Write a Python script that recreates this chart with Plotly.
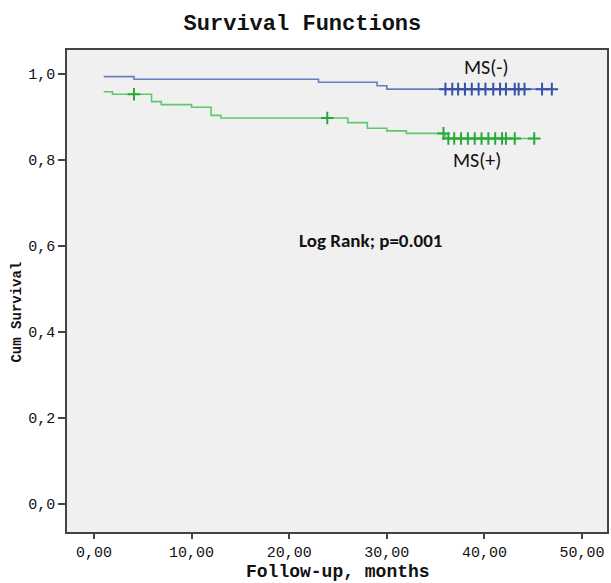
import plotly.graph_objects as go
import numpy as np

# ---- data ----
ms_neg_times = [1.0, 4.1, 23.0, 29.0, 30.0, 47.0]
ms_neg_surv = [0.994, 0.988, 0.981, 0.973, 0.965, 0.965]
ms_neg_censor = [36.0, 36.7, 37.3, 38.0, 38.7, 39.4, 40.1, 40.9, 41.6, 42.2, 43.1, 43.5, 44.1, 45.9, 46.9]

ms_pos_times = [1.0, 1.9, 5.9, 6.9, 10.0, 12.0, 13.0, 26.0, 28.0, 30.0, 32.0, 36.0, 45.2]
ms_pos_surv = [0.959, 0.953, 0.936, 0.929, 0.923, 0.904, 0.898, 0.887, 0.874, 0.868, 0.862, 0.850, 0.850]
ms_pos_censor = [4.1, 23.9, 35.8, 36.3, 36.9, 37.6, 38.3, 39.0, 39.7, 40.4, 41.1, 41.8, 42.2, 43.1, 45.1]

x_ticks = [0, 10, 20, 30, 40, 50]
x_tick_text = ["0,00", "10,00", "20,00", "30,00", "40,00", "50,00"]
y_ticks = [0.0, 0.2, 0.4, 0.6, 0.8, 1.0]
y_tick_text = ["0,0", "0,2", "0,4", "0,6", "0,8", "1,0"]


def step_value(times, surv, t):
    idx = np.searchsorted(np.array(times), t, side="right") - 1
    idx = max(idx, 0)
    return surv[idx]


blue_line = "#6a7cc2"
blue_mark = "#3450a8"
green_line = "#5ec86c"
green_mark = "#28a83a"

fig = go.Figure()
fig.add_trace(go.Scatter(x=ms_neg_times, y=ms_neg_surv, mode="lines", line_shape="hv",
                         line=dict(color=blue_line, width=1.6), showlegend=False, name="MS(-)"))
fig.add_trace(go.Scatter(x=ms_pos_times, y=ms_pos_surv, mode="lines", line_shape="hv",
                         line=dict(color=green_line, width=1.6), showlegend=False, name="MS(+)"))
fig.add_trace(go.Scatter(x=ms_neg_censor, y=[step_value(ms_neg_times, ms_neg_surv, t) for t in ms_neg_censor],
                         mode="markers", marker=dict(symbol="cross-thin", size=9,
                                                     line=dict(color=blue_mark, width=2)),
                         showlegend=False))
fig.add_trace(go.Scatter(x=ms_pos_censor, y=[step_value(ms_pos_times, ms_pos_surv, t) for t in ms_pos_censor],
                         mode="markers", marker=dict(symbol="cross-thin", size=9,
                                                     line=dict(color=green_mark, width=2)),
                         showlegend=False))

mono = "Liberation Mono, Courier New, monospace"
sans = "Carlito, Noto Sans, sans-serif"
fig.update_layout(
    width=611, height=583,
    margin=dict(l=67, r=2, t=50, b=51),
    paper_bgcolor="white", plot_bgcolor="#f0f0f0",
    title=dict(text="<b>Survival Functions</b>", x=0.495, xanchor="center",
               y=0.961, yanchor="middle", yref="container",
               font=dict(family=mono, size=22, color="#111")),
    xaxis=dict(range=[-2.76, 52.55], tickvals=x_ticks, ticktext=x_tick_text,
               showgrid=False, zeroline=False, showline=True, mirror=True,
               linecolor="#444", linewidth=1.5, ticks="outside", ticklen=5, tickwidth=1.5,
               tickcolor="#444", tickfont=dict(family=mono, size=15, color="#111")),
    yaxis=dict(range=[-0.065, 1.056], tickvals=y_ticks, ticktext=y_tick_text,
               showgrid=False, zeroline=False, showline=True, mirror=True,
               linecolor="#444", linewidth=1.5, ticks="outside", ticklen=7, tickwidth=1.5,
               tickcolor="#444", tickfont=dict(family=mono, size=15, color="#111")),
    annotations=[
        dict(x=0.502, y=-0.084, xref="paper", yref="paper", text="<b>Follow-up, months</b>",
             showarrow=False, xanchor="center", yanchor="middle",
             font=dict(family=mono, size=18, color="#111")),
        dict(x=-0.092, y=0.456, xref="paper", yref="paper", text="<b>Cum Survival</b>",
             showarrow=False, textangle=-90, xanchor="center", yanchor="middle",
             font=dict(family=mono, size=14, color="#111")),
        dict(x=40.2, y=1.016, xref="x", yref="y", text="MS(-)", showarrow=False,
             font=dict(family=sans, size=20, color="#111")),
        dict(x=39.2, y=0.800, xref="x", yref="y", text="MS(+)", showarrow=False,
             font=dict(family=sans, size=20, color="#111")),
        dict(x=28.3, y=0.614, xref="x", yref="y", text="<b>Log Rank; p=0.001</b>", showarrow=False,
             font=dict(family=sans, size=19, color="#111")),
    ],
)

fig.write_html("out.html", config={"displayModeBar": False},
               post_script="document.body.style.margin='0';document.body.style.overflow='hidden';")
